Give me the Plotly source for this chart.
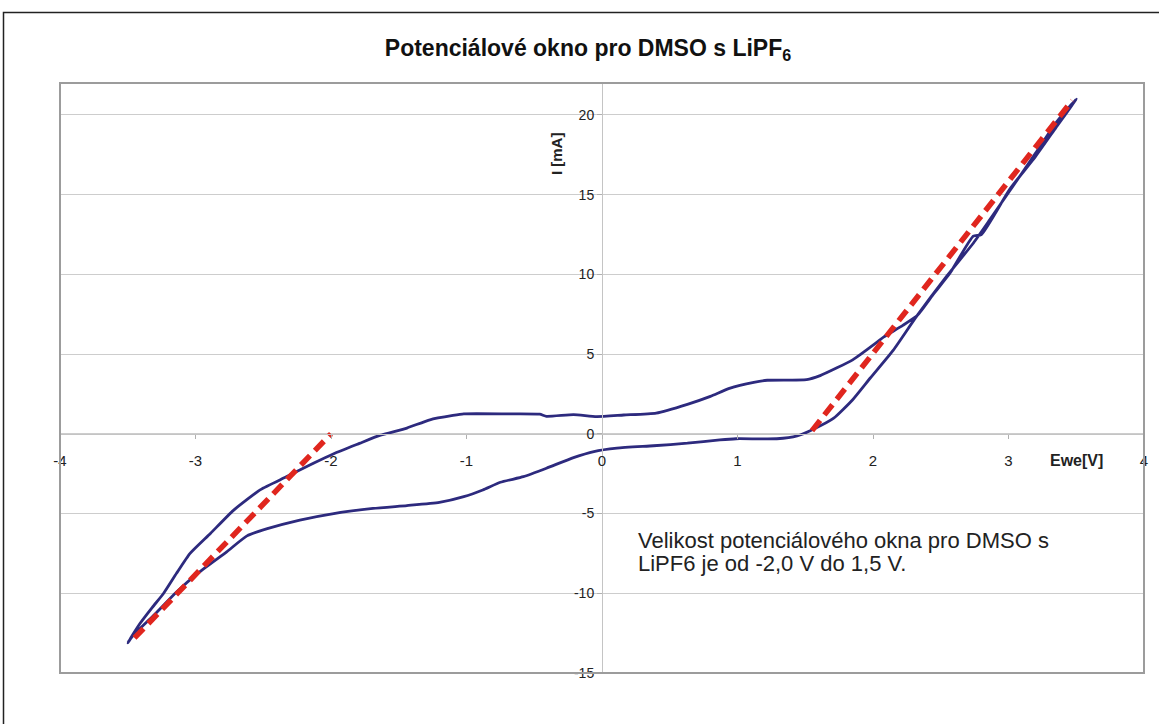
import plotly.graph_objects as go

# Cyclic voltammogram: forward scan from -3.5 V up to 3.5 V
fwd_v = [-3.50, -3.41, -3.32, -3.235, -3.14, -3.04, -2.89, -2.72, -2.52, -2.33,
         -2.13, -1.98, -1.79, -1.64, -1.44, -1.27, -1.10, -1.02, -0.70, -0.46,
         -0.41, -0.21, -0.04, 0.16, 0.40, 0.63, 0.80, 0.94, 1.12, 1.22,
         1.51, 1.61, 1.73, 1.85, 2.03, 2.08, 2.22, 2.33, 2.45, 2.57,
         2.74, 2.80, 3.01, 3.20, 3.35, 3.50]
fwd_i = [-13.1, -11.9, -10.9, -10.0, -8.75, -7.5, -6.25, -4.8, -3.5, -2.7,
         -1.85, -1.25, -0.6, -0.1, 0.36, 0.88, 1.15, 1.25, 1.25, 1.23,
         1.1, 1.2, 1.08, 1.18, 1.3, 1.85, 2.35, 2.85, 3.23, 3.36,
         3.4, 3.65, 4.12, 4.64, 5.75, 6.08, 6.8, 7.45, 8.8, 10.1,
         12.4, 12.5, 15.35, 17.4, 19.2, 21.0]

# Reverse scan from 3.5 V back to -3.5 V
rev_v = [3.50, 3.35, 3.20, 3.03, 2.86, 2.74, 2.54, 2.32, 2.15, 1.98,
         1.85, 1.71, 1.56, 1.44, 1.29, 0.99, 0.87, 0.63, 0.38, 0.11,
         -0.06, -0.21, -0.41, -0.58, -0.75, -0.88, -1.02, -1.20, -1.44, -1.69,
         -1.98, -2.23, -2.47, -2.62, -2.77, -2.97, -3.14, -3.31, -3.46, -3.50]
rev_i = [21.0, 19.5, 17.6, 15.5, 13.4, 11.95, 9.85, 7.35, 5.25, 3.5,
         2.14, 0.98, 0.29, -0.13, -0.31, -0.31, -0.38, -0.59, -0.75, -0.9,
         -1.11, -1.49, -2.16, -2.69, -3.04, -3.52, -3.94, -4.3, -4.5, -4.68,
         -5.0, -5.41, -5.95, -6.4, -7.4, -8.66, -9.92, -11.4, -12.64, -13.1]

# Tangent lines marking the window limits
cath_v = [-3.45, -2.0]
cath_i = [-12.8, 0.0]
anod_v = [1.55, 3.47]
anod_i = [0.2, 20.9]

x_ticks = [-4, -3, -2, -1, 0, 1, 2, 3, 4]
x_labels = ["-4", "-3", "-2", "-1", "0", "1", "2", "3", "4"]
y_ticks = [-15, -10, -5, 0, 5, 10, 15, 20]
y_labels = ["-15", "-10", "-5", "0", "5", "10", "15", "20"]

note_lines = ["Velikost potenciálového okna pro DMSO s",
              "LiPF6 je od -2,0 V do 1,5 V."]

X_RANGE = [-4, 4]
Y_RANGE = [-15, 22]

NAVY = "#2d2a7e"
RED = "#e0261e"
FONT = "Liberation Sans, Arial, sans-serif"

fig = go.Figure()
fig.add_trace(go.Scatter(x=fwd_v + rev_v[1:], y=fwd_i + rev_i[1:], mode="lines",
                         line=dict(color=NAVY, width=2.8, shape="spline", smoothing=0.5),
                         showlegend=False))
fig.add_trace(go.Scatter(x=cath_v, y=cath_i, mode="lines",
                         line=dict(color=RED, width=5.5, dash="13px,7px"), showlegend=False))
fig.add_trace(go.Scatter(x=anod_v, y=anod_i, mode="lines",
                         line=dict(color=RED, width=5.5, dash="13px,7px"), showlegend=False))

W, H = 1159, 724
ML, MR, MT, MB = 60, 15, 83, 51
pw, ph = W - ML - MR, H - MT - MB

x_axis_pos = (0 - Y_RANGE[0]) / (Y_RANGE[1] - Y_RANGE[0])
y_axis_pos = (0 - X_RANGE[0]) / (X_RANGE[1] - X_RANGE[0])

fig.update_layout(
    width=W, height=H,
    margin=dict(l=ML, r=MR, t=MT, b=MB),
    paper_bgcolor="white", plot_bgcolor="white",
    font=dict(family=FONT, color="#222"),
    title=dict(text="<b>Potenciálové okno pro DMSO s LiPF<sub>6</sub></b>",
               font=dict(size=23, family=FONT, color="#111"),
               xref="paper", x=(588 - ML) / pw, xanchor="center",
               yref="container", y=1 - 48 / H, yanchor="middle"),
    xaxis=dict(range=X_RANGE, tickvals=x_ticks, ticktext=x_labels,
               showgrid=False, zeroline=False,
               showline=True, linecolor="#c4c4c4", linewidth=1,
               ticks="outside", ticklen=4, tickcolor="#b0b0b0",
               tickfont=dict(size=15, color="#222"), ticklabelstandoff=9,
               anchor="free", position=x_axis_pos),
    yaxis=dict(range=Y_RANGE, tickvals=y_ticks, ticktext=y_labels,
               showgrid=True, gridcolor="#cdcdcd", gridwidth=1, zeroline=False,
               showline=True, linecolor="#c4c4c4", linewidth=1,
               ticks="outside", ticklen=5, tickcolor="#b0b0b0",
               tickfont=dict(size=14, color="#222"),
               anchor="free", position=y_axis_pos),
)

# plot-area frame and outer chart frame
fig.add_shape(type="rect", xref="paper", yref="paper", x0=0, x1=1, y0=0, y1=1,
              line=dict(color="#9c9c9c", width=2), layer="above")
fig.add_shape(type="rect", xref="paper", yref="paper",
              x0=(3.5 - ML) / pw, x1=(W + 10 - ML) / pw,
              y0=1 - (H + 10 - MT) / ph, y1=1 + (MT - 12.5) / ph,
              line=dict(color="#222", width=1.5))

fig.add_annotation(text="<b>Ewe[V]</b>", x=3.5, y=-1.65, xref="x", yref="y",
                   showarrow=False, font=dict(size=16, color="#222"))
fig.add_annotation(text="<b>I [mA]</b>", x=-0.34, y=17.6, xref="x", yref="y",
                   showarrow=False, textangle=-90, font=dict(size=15, color="#222"))

# two-line note, each line placed separately for tight line spacing
for line_text, line_y in zip(note_lines, [-6.68, -8.12]):
    fig.add_annotation(text=line_text, x=0.25, y=line_y, xref="x", yref="y",
                       xanchor="left", yanchor="middle", align="left",
                       showarrow=False, font=dict(size=22, color="#222"))

fig.write_html("out.html")
